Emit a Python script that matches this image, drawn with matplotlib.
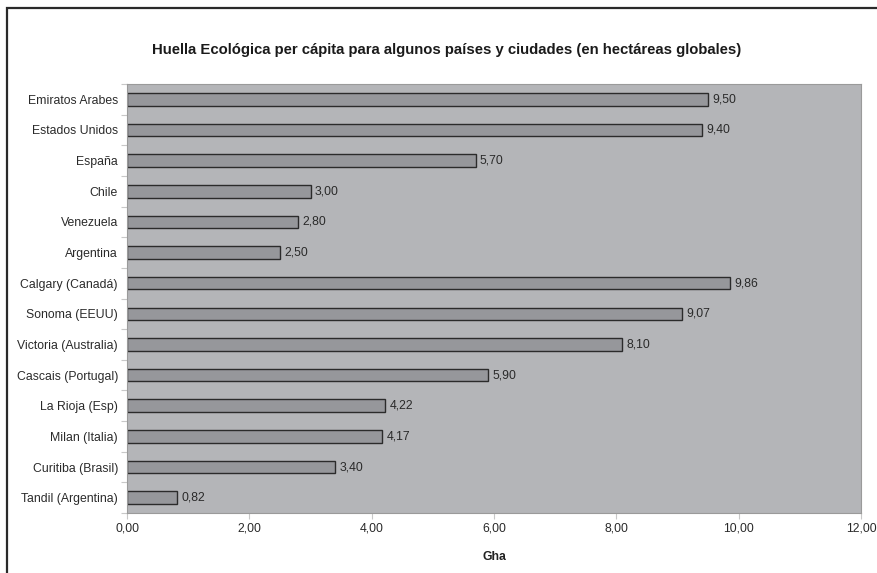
import matplotlib
matplotlib.use('Agg')
from matplotlib import pyplot as plt
from matplotlib.patches import Rectangle
from matplotlib.ticker import FixedLocator

plt.rcParams['font.family'] = ['Liberation Sans', 'DejaVu Sans']

# Datos: huella ecologica per capita (Gha)
places = ['Emiratos Arabes', 'Estados Unidos', 'España', 'Chile', 'Venezuela',
          'Argentina', 'Calgary (Canadá)', 'Sonoma (EEUU)', 'Victoria (Australia)',
          'Cascais (Portugal)', 'La Rioja (Esp)', 'Milan (Italia)',
          'Curitiba (Brasil)', 'Tandil (Argentina)']
gha = [9.50, 9.40, 5.70, 3.00, 2.80, 2.50, 9.86, 9.07, 8.10, 5.90,
       4.22, 4.17, 3.40, 0.82]
x_ticks = [0, 2, 4, 6, 8, 10, 12]

W, H = 877, 573
fig = plt.figure(figsize=(W / 100, H / 100), dpi=100)
fig.patch.set_facecolor('white')

# marco del grafico (se sale por la derecha y abajo)
fig.patches.append(Rectangle((7 / W, -0.1), 1.2, 1 - 8 / H + 0.1,
                             transform=fig.transFigure, fill=False,
                             edgecolor='#2a2a2a', linewidth=1.6))

ax = fig.add_axes([127 / W, 1 - 513 / H, (861 - 127) / W, (513 - 84) / H])
ax.set_facecolor('#b4b5b8')

n = len(places)
ypos = list(range(n))
ax.barh(ypos, gha, height=0.41, color='#96979b', edgecolor='#2b2b2b',
        linewidth=1.0, zorder=2)
for y, v in zip(ypos, gha):
    ax.text(v + 0.07, y, '{:.2f}'.format(v).replace('.', ','), va='center',
            ha='left', fontsize=8.8, color='#2a2a2a')

ax.set_ylim(n - 0.5, -0.5)
ax.set_xlim(0, 12)
ax.set_yticks(ypos)
ax.set_yticklabels(places, fontsize=8.8, color='#2a2a2a')
ax.yaxis.set_minor_locator(FixedLocator([i - 0.5 for i in range(n + 1)]))
ax.tick_params(axis='y', which='major', length=0, pad=6.5)
ax.tick_params(axis='y', which='minor', length=4, color='#c8c8c8', width=0.8)
ax.set_xticks(x_ticks)
ax.set_xticklabels(['{:.2f}'.format(t).replace('.', ',') for t in x_ticks],
                   fontsize=8.8, color='#2a2a2a')
ax.tick_params(axis='x', length=4, color='#c8c8c8', width=0.8, pad=3)
for s in ax.spines.values():
    s.set_color('#9a9a9a')
    s.set_linewidth(0.8)

ax.set_xlabel('Gha', fontsize=8.8, fontweight='bold', color='#222222', labelpad=12)
fig.text(447 / W, 1 - 50 / H,
         'Huella Ecológica per cápita para algunos países y ciudades (en hectáreas globales)',
         ha='center', va='center', fontsize=10.7, fontweight='bold', color='#1a1a1a')

fig.savefig('out.png', dpi=100)
